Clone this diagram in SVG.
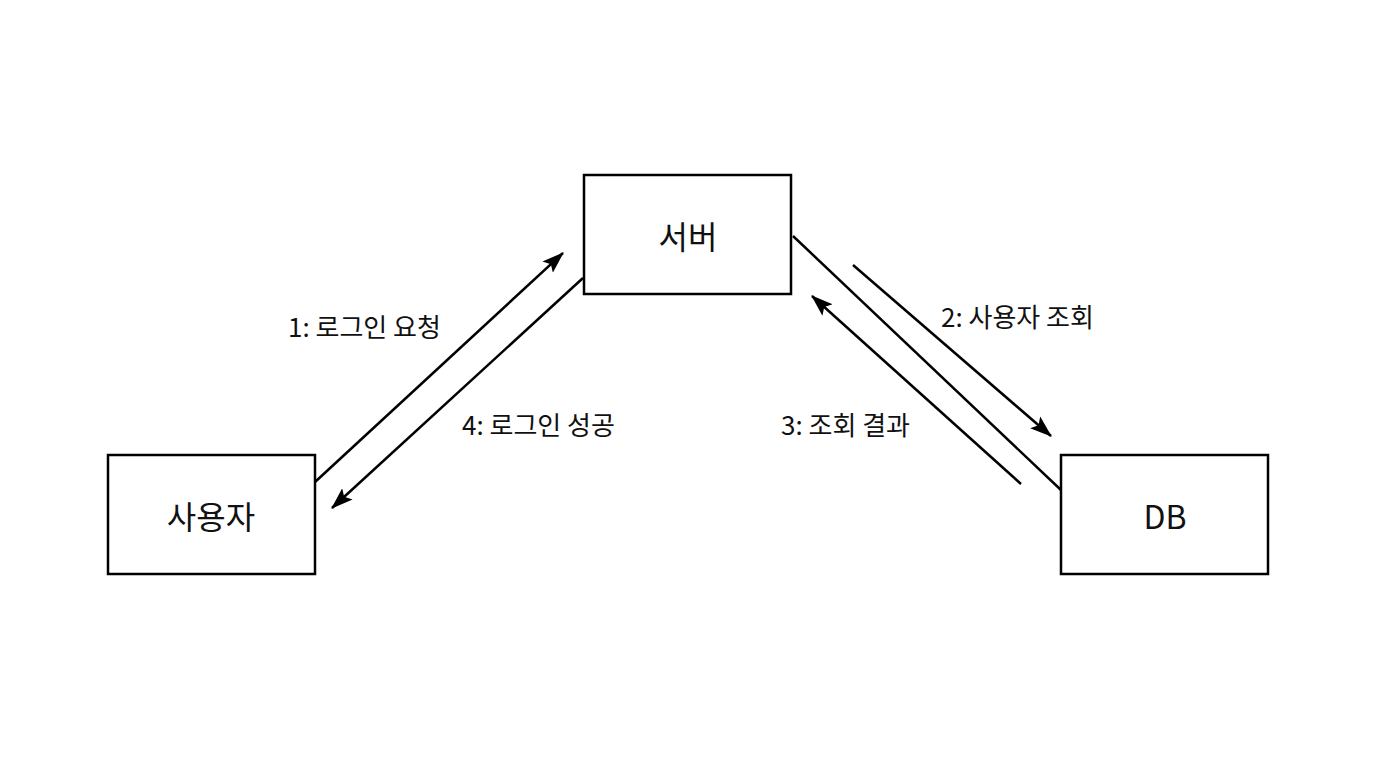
<svg xmlns="http://www.w3.org/2000/svg" width="1376" height="768" viewBox="0 0 1376 768">
<style>
.box{fill:#fff;stroke:#000;stroke-width:2.5}
.t{font-family:"Noto Sans CJK KR","Noto Sans",sans-serif;fill:#111}
.n{font-size:32px;text-anchor:middle;dominant-baseline:central}
.l{font-size:26px}
.c{stroke:#000;stroke-width:2.5;fill:none}
</style>
<defs><marker id="a" viewBox="0 0 10 10" refX="9" refY="5" markerWidth="8" markerHeight="8" markerUnits="userSpaceOnUse" orient="auto"><path d="M0,0L10,5L0,10L2.5,5z" fill="#000" transform="scale(1)"/></marker>
<marker id="b" viewBox="0 0 20 14" refX="19" refY="7" markerWidth="22" markerHeight="16" markerUnits="userSpaceOnUse" orient="auto"><path d="M0,0L20,7L0,14L4,7z" fill="#000"/></marker></defs>
<rect width="1376" height="768" fill="#fff"/>
<g id="user"><rect class="box" x="108" y="455" width="207" height="119"/><text class="t n" x="211" y="515">사용자</text></g>
<g id="server"><rect class="box" x="584" y="175" width="207" height="119"/><text class="t n" x="688" y="235">서버</text></g>
<g id="db"><rect class="box" x="1061" y="455" width="207" height="119"/><text class="t n" x="1165" y="515">DB</text></g>
<g id="connectors">
<line class="c" x1="315" y1="482" x2="563" y2="253" marker-end="url(#b)"/>
<line class="c" x1="583" y1="278" x2="332" y2="508" marker-end="url(#b)"/>
<line class="c" x1="853" y1="265" x2="1051" y2="436" marker-end="url(#b)"/>
<line class="c" x1="793" y1="236" x2="1061" y2="490"/>
<line class="c" x1="1021" y1="484" x2="812" y2="296" marker-end="url(#b)"/>
</g>
<g id="labels">
<text class="t l" x="288" y="337">1: 로그인 요청</text>
<text class="t l" x="462" y="435">4: 로그인 성공</text>
<text class="t l" x="941" y="327">2: 사용자 조회</text>
<text class="t l" x="781" y="435">3: 조회 결과</text>
</g>
</svg>
